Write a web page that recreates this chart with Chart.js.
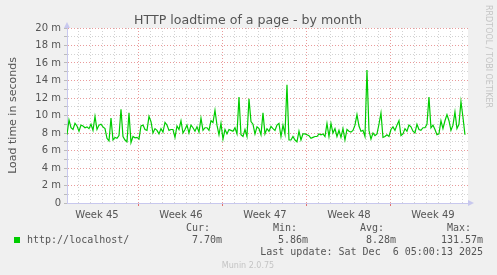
<!DOCTYPE html>
<html>
<head>
<meta charset="utf-8">
<script src="https://cdn.jsdelivr.net/npm/chart.js@4"></script>
<style>
html, body { margin: 0; padding: 0; background: #f0f0f0; }
#wrap { width: 497px; height: 275px; }
</style>
</head>
<body>
<div id="wrap"><canvas id="myChart" width="497" height="275"></canvas></div>
<script>
// samples are 4 hours apart, x measured in days from the left edge
var stepDays = 1 / 6;
var loadtimeMs = [
	7.8, 9.5, 8.6, 8.4, 9.1, 8.8, 8.2, 8.9, 8.8, 8.6, 8.7, 8.5, 9.0, 8.3, 9.9, 8.4, 8.9, 9.0, 8.7, 8.5,
	7.4, 7.1, 9.7, 7.2, 7.5, 7.4, 7.7, 10.7, 7.6, 7.2, 7.0, 10.3, 6.9, 7.6,
	7.45, 7.5, 7.3, 8.8, 8.9, 8.4, 8.3, 9.9, 9.3, 8.0, 8.5, 8.3, 7.9, 8.5, 8.1, 9.2, 8.9, 8.3, 8.4, 8.4,
	7.5, 8.8, 8.4, 9.4, 8.0, 8.4, 8.9, 8.0, 8.9, 8.6, 8.2, 8.7, 8.1, 9.7,
	8.3, 8.6, 8.6, 8.3, 9.4, 9.2, 10.6, 8.9, 7.8, 9.1, 7.3, 8.4, 7.9, 8.4, 8.3, 8.2, 8.6, 7.9, 12.1, 7.8,
	7.6, 8.4, 7.6, 11.9, 9.3, 9.0, 7.9, 8.7, 8.5, 7.8, 10.3, 7.9, 8.5, 8.2,
	8.75, 8.5, 8.3, 8.9, 9.1, 7.6, 8.9, 7.9, 13.5, 7.2, 7.2, 7.6, 7.2, 7.0, 8.2, 7.2, 7.9, 7.9, 7.8, 7.7,
	7.4, 7.5, 7.6, 7.6, 7.9, 7.8, 7.9, 7.6, 9.1, 7.6, 9.1, 8.0, 8.5, 7.6,
	8.3, 7.5, 8.5, 7.2, 8.4, 8.2, 8.1, 8.3, 8.9, 10.1, 8.8, 8.2, 8.3, 7.6, 15.2, 8.3, 7.3, 8.0, 7.7, 7.9,
	9.0, 10.3, 7.5, 7.6, 7.8, 7.6, 8.4, 8.7, 8.3, 8.9, 9.4, 7.7, 7.9, 8.5,
	8.2, 8.9, 8.7, 8.2, 8.0, 9.0, 8.4, 8.3, 8.6, 8.6, 9.0, 12.1, 8.6, 8.9, 8.4, 7.8, 7.9, 9.4, 8.5, 9.4,
	10.1, 9.4, 8.3, 8.9, 10.4, 8.5, 9.0, 11.6, 9.8, 7.8
];
var weekLabels = ["Week 45", "Week 46", "Week 47", "Week 48", "Week 49"];
var weekCenters = [2.5, 9.5, 16.5, 23.5, 30.5];
var weekBounds = [6, 13, 20, 27];
var xMaxDays = 33.42;
var yMax = 20;

var legendName = "http://localhost/";
var statNames = ["Cur:", "Min:", "Avg:", "Max:"];
var statValues = ["7.70m", "5.86m", "8.28m", "131.57m"];
var lastUpdate = "Last update: Sat Dec  6 05:00:13 2025";

var points = loadtimeMs.map(function (v, i) { return { x: i * stepDays, y: v }; });

var majorGrid = "rgba(225,120,120,0.75)";
var minorGrid = "#d2d2d2";
var axisColor = "#c8c8ee";
var textColor = "#555";

var munin = {
	id: "munin",
	beforeDraw: function (chart) {
		var c = chart.ctx, a = chart.chartArea;
		c.save();
		c.fillStyle = "#ffffff";
		c.fillRect(a.left, a.top, a.right - a.left, a.bottom - a.top);
		c.restore();
	},
	afterDraw: function (chart) {
		var c = chart.ctx, a = chart.chartArea;
		c.save();
		// axis arrows
		c.fillStyle = axisColor;
		c.beginPath();
		c.moveTo(a.left - 3, a.top); c.lineTo(a.left, a.top - 6); c.lineTo(a.left + 3, a.top);
		c.fill();
		c.beginPath();
		c.moveTo(a.right, a.bottom - 3); c.lineTo(a.right + 6, a.bottom); c.lineTo(a.right, a.bottom + 3);
		c.fill();

		c.fillStyle = textColor;
		c.textBaseline = "alphabetic";
		c.font = "12.6px 'DejaVu Sans'";
		c.textAlign = "center";
		c.fillText("HTTP loadtime of a page - by month", 248, 24);

		c.save();
		c.translate(16, (a.top + a.bottom) / 2);
		c.rotate(-Math.PI / 2);
		c.font = "11px 'DejaVu Sans'";
		c.fillText("Load time in seconds", 0, 0);
		c.restore();

		// legend
		c.fillStyle = "#00cc00";
		c.fillRect(14, 237, 6, 6);
		c.fillStyle = textColor;
		c.font = "10px 'DejaVu Sans Mono'";
		c.textAlign = "left";
		c.fillText(legendName, 27, 243);
		var nameX = [186, 273, 360, 447];
		var valX = [192, 278, 366, 441];
		for (var i = 0; i < statNames.length; i++) {
			c.fillText(statNames[i], nameX[i], 231);
			c.fillText(statValues[i], valX[i], 243);
		}
		c.textAlign = "right";
		c.fillText(lastUpdate, 483, 255);

		c.fillStyle = "#c4c4c4";
		c.font = "8px 'DejaVu Sans'";
		c.textAlign = "center";
		c.fillText("Munin 2.0.75", 248, 268);
		c.save();
		c.translate(486, 5);
		c.rotate(Math.PI / 2);
		c.textAlign = "left";
		c.fillText("RRDTOOL / TOBI OETIKER", 0, 0);
		c.restore();
		c.restore();
	}
};

var ctx = document.getElementById("myChart").getContext("2d");
var chart = new Chart(ctx, {
	type: "line",
	data: {
		datasets: [{
			data: points,
			borderColor: "#00cc00",
			borderWidth: 1.2,
			pointRadius: 0,
			tension: 0,
			fill: false
		}]
	},
	options: {
		responsive: false,
		animation: false,
		layout: { padding: { left: 0, top: 28, right: 29, bottom: 0 } },
		plugins: { legend: { display: false }, tooltip: { enabled: false } },
		scales: {
			x: {
				type: "linear",
				min: 0,
				max: xMaxDays,
				afterBuildTicks: function (scale) {
					var t = [];
					for (var v = 0; v <= 33; v += 0.5) t.push({ value: v });
					scale.ticks = t;
				},
				afterFit: function (scale) { scale.height = 72; },
				grid: {
					color: function (c) {
						var v = c.tick.value;
						if (weekBounds.indexOf(v) >= 0) return majorGrid;
						if (v > 0 && Number.isInteger(v)) return minorGrid;
						return "rgba(0,0,0,0)";
					},
					tickColor: function (c) {
						return weekBounds.indexOf(c.tick.value) >= 0 ? "#e07070" : "rgba(0,0,0,0)";
					},
					tickLength: 3,
					lineWidth: 1
				},
				border: { color: axisColor, width: 1, dash: [1, 2] },
				ticks: {
					autoSkip: false,
					maxRotation: 0,
					padding: 3,
					color: textColor,
					font: { family: "'DejaVu Sans'", size: 10 },
					callback: function (v) {
						var k = weekCenters.indexOf(v);
						return k >= 0 ? weekLabels[k] : "";
					}
				}
			},
			y: {
				min: 0,
				max: yMax,
				afterFit: function (scale) { scale.width = 67; },
				grid: {
					color: function (c) {
						var v = c.tick.value;
						if (v === 0) return "rgba(0,0,0,0)";
						return v % 2 === 0 ? majorGrid : minorGrid;
					},
					tickColor: "#bbbbbb",
					tickLength: 3,
					lineWidth: 1
				},
				border: { color: axisColor, width: 1, dash: [1, 2] },
				ticks: {
					stepSize: 1,
					autoSkip: false,
					padding: 3,
					color: textColor,
					font: { family: "'DejaVu Sans'", size: 10 },
					callback: function (v) {
						if (v % 2 !== 0) return "";
						return v === 0 ? "0" : v + " m";
					}
				}
			}
		}
	},
	plugins: [munin]
});
</script>
</body>
</html>
